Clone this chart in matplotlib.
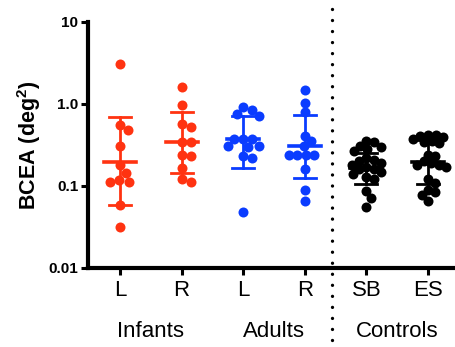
import matplotlib
matplotlib.use('Agg')
import matplotlib.pyplot as plt
import numpy as np

plt.rcParams['font.family'] = ['Liberation Sans', 'DejaVu Sans']
plt.rcParams['mathtext.fontset'] = 'custom'
plt.rcParams['mathtext.rm'] = 'Liberation Sans'
plt.rcParams['mathtext.bf'] = 'Liberation Sans:bold'

# data (BCEA, deg^2)
categories = ['L', 'R', 'L', 'R', 'SB', 'ES']
groups = ['Infants', 'Adults', 'Controls']
inf_L = [3.05, 0.555, 0.48, 0.31, 0.18, 0.144, 0.118, 0.112, 0.112, 0.059, 0.032]
inf_R = [1.63, 0.97, 0.574, 0.524, 0.343, 0.343, 0.241, 0.23, 0.166, 0.12, 0.111]
ad_L = [0.917, 0.834, 0.76, 0.705, 0.374, 0.374, 0.374, 0.31, 0.31, 0.30, 0.234, 0.22, 0.0484]
ad_R = [1.46, 1.03, 0.80, 0.41, 0.35, 0.304, 0.24, 0.24, 0.24, 0.236, 0.161, 0.090, 0.065]
ctl_SB = [0.35, 0.34, 0.31, 0.30, 0.28, 0.27, 0.22, 0.21, 0.20, 0.19, 0.18, 0.17,
          0.16, 0.16, 0.15, 0.14, 0.13, 0.12, 0.086, 0.072, 0.055]
ctl_ES = [0.42, 0.42, 0.41, 0.40, 0.37, 0.35, 0.34, 0.33, 0.24, 0.23, 0.20, 0.19,
          0.18, 0.18, 0.17, 0.12, 0.11, 0.09, 0.085, 0.078, 0.066]
centre = [0.196, 0.343, 0.374, 0.304, 0.165, 0.196]
err_lo = [0.059, 0.144, 0.166, 0.125, 0.105, 0.107]
err_hi = [0.69, 0.80, 0.705, 0.725, 0.255, 0.36]

series = [inf_L, inf_R, ad_L, ad_R, ctl_SB, ctl_ES]
red = '#FF3311'
blue = '#0A3CFF'
colors = [red, red, blue, blue, 'black', 'black']
overlap = [0.95, 0.95, 0.9, 0.85, 0.76, 0.76]

fig = plt.figure(figsize=(4.56, 3.47), dpi=100)
ax = fig.add_axes([0.193, 0.2277, 0.807, 0.709])
ax.set_yscale('log')
ax.set_ylim(0.01, 10)
ax.set_xlim(-0.52, 5.455)

msize = 7.2  # points
diam = msize * fig.dpi / 72.0


def swarm(xc, vals, frac):
    # simple beeswarm in pixel space
    pts = ax.transData.transform([(xc, v) for v in vals])
    order = np.argsort(-np.array(vals))
    placed = []
    out = np.zeros(len(vals))
    mind = diam * frac
    for i in order:
        px, py = pts[i]
        for k in range(400):
            off = (k + 1) // 2 * 0.5 * (1 if k % 2 else -1)
            ok = all((px + off - qx) ** 2 + (py - qy) ** 2 >= mind ** 2 for qx, qy in placed)
            if ok:
                break
        placed.append((px + off, py))
        out[i] = px + off
    inv = ax.transData.inverted()
    return [inv.transform((x, 0))[0] for x in out]


for i, vals in enumerate(series):
    xs = swarm(i, vals, overlap[i])
    ax.plot(xs, vals, 'o', ms=msize, color=colors[i], mec='none', zorder=3)
    ax.plot([i, i], [err_lo[i], err_hi[i]], color=colors[i], lw=2.0, zorder=4)
    ax.plot([i - 0.18, i + 0.18], [err_lo[i]] * 2, color=colors[i], lw=2.0, zorder=4)
    ax.plot([i - 0.18, i + 0.18], [err_hi[i]] * 2, color=colors[i], lw=2.0, zorder=4)
    ax.plot([i - 0.26, i + 0.26], [centre[i]] * 2, color=colors[i], lw=2.6, zorder=4)

ax.spines['top'].set_visible(False)
ax.spines['right'].set_visible(False)
ax.spines['left'].set_linewidth(3)
ax.spines['bottom'].set_linewidth(3)

ax.set_yticks([0.01, 0.1, 1, 10])
ax.set_yticklabels(['0.01', '0.1', '1.0', '10'], fontsize=11, fontweight='bold')
ax.yaxis.set_minor_locator(matplotlib.ticker.NullLocator())
ax.tick_params(axis='y', length=5, width=2.2, pad=2)
ax.set_xticks(range(len(categories)))
ax.set_xticklabels(categories, fontsize=16)
ax.tick_params(axis='x', length=5, width=2.2, pad=4)

ax.set_ylabel(r'BCEA (deg$^\mathbf{2}$)', fontsize=15.5, fontweight='bold', labelpad=4)

group_x = [0.5, 2.5, 4.5]
for gx, g in zip(group_x, groups):
    ax.text(gx, -0.26, g, transform=ax.get_xaxis_transform(), ha='center', va='center',
            fontsize=16)

ax.axvline(3.44, ymin=-0.293, ymax=1.06, clip_on=False, color='black', lw=2.4,
           linestyle=(0, (0.01, 3.3)), dash_capstyle='round')

fig.savefig('out.png', dpi=100)
